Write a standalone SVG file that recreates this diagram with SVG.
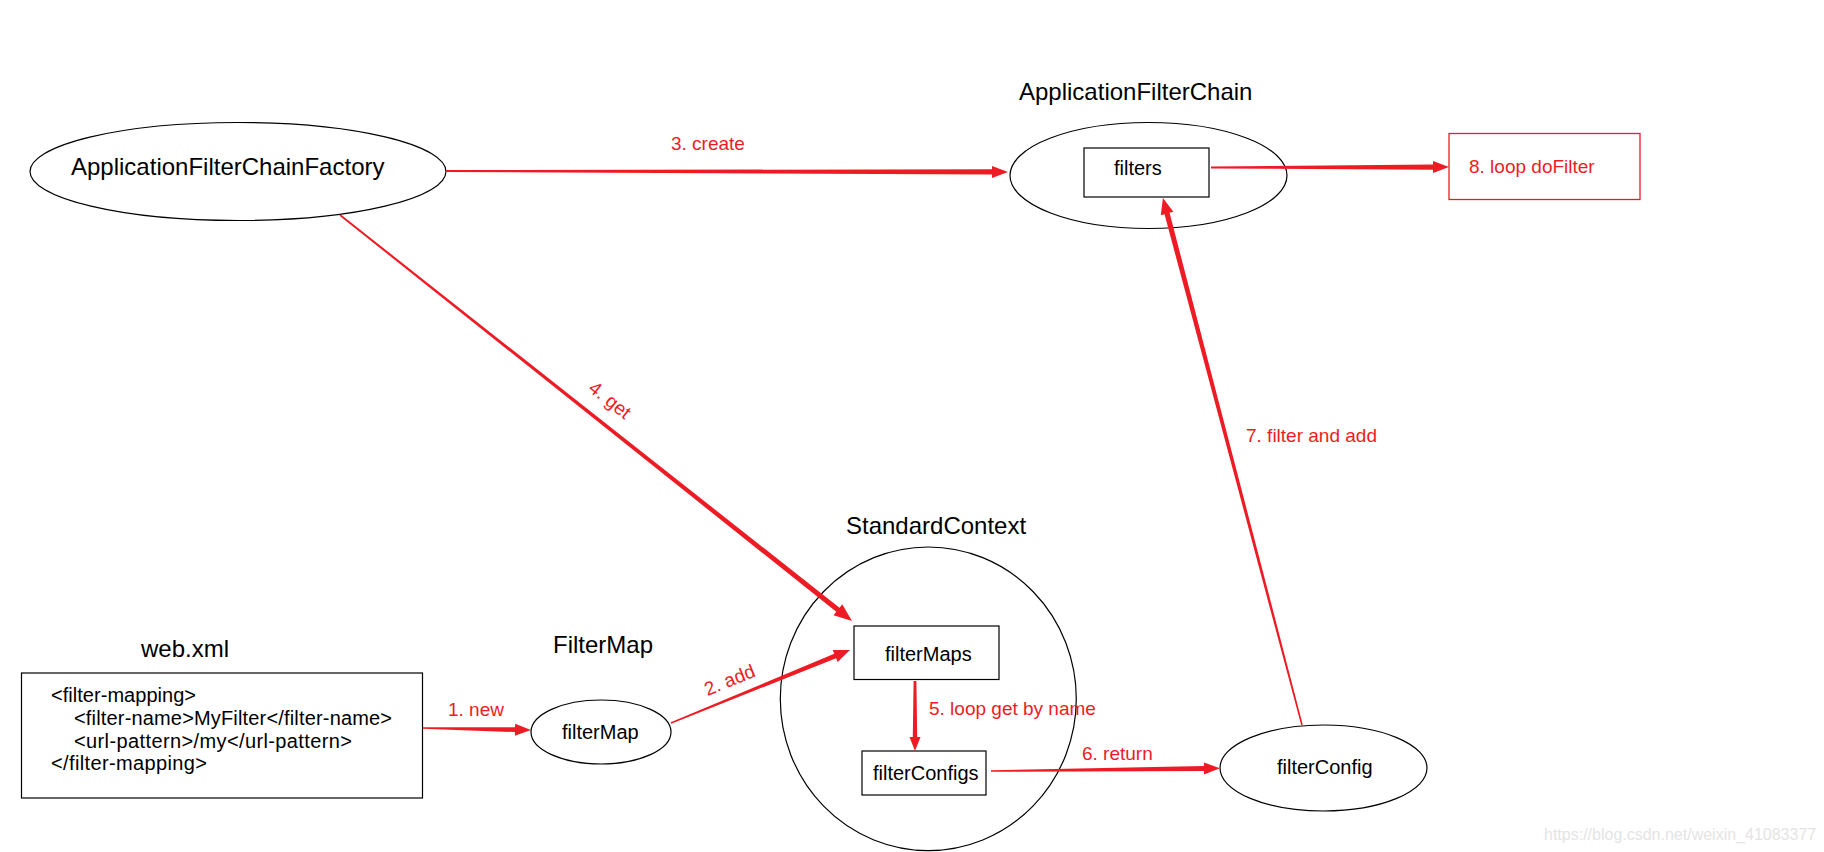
<svg xmlns="http://www.w3.org/2000/svg" width="1824" height="852" viewBox="0 0 1824 852">
<style>
.bg{fill:#ffffff}
.shape{fill:none;stroke:#000000;stroke-width:1.2}
.redbox{fill:none;stroke:#ED1C24;stroke-width:1.3}
.title{font-family:"Liberation Sans",Arial,sans-serif;font-size:24px;fill:#000000}
.node{font-family:"Liberation Sans",Arial,sans-serif;font-size:20px;fill:#000000}
.lbl{font-family:"Liberation Sans",Arial,sans-serif;font-size:19px;fill:#ED1C24}
.arrow{fill:#ED1C24;stroke:none}
.wm{font-family:"Liberation Sans",Arial,sans-serif;font-size:16px;fill:#e4e4e4}
</style>
<rect class="bg" x="0" y="0" width="1824" height="852"/>

<g id="factory">
<ellipse class="shape" cx="238" cy="171.5" rx="208" ry="49"/>
<text class="title" x="71" y="175">ApplicationFilterChainFactory</text>
</g>

<g id="chain">
<text class="title" x="1019" y="100">ApplicationFilterChain</text>
<ellipse class="shape" cx="1148.5" cy="175.5" rx="138.5" ry="53"/>
</g>

<g id="filters">
<rect class="shape" x="1084" y="148" width="125" height="49"/>
<text class="node" x="1114" y="175">filters</text>
</g>

<g id="doFilter">
<rect class="redbox" x="1449" y="133.5" width="191" height="66"/>
<text class="lbl" x="1469" y="173">8. loop doFilter</text>
</g>

<g id="webxml">
<text class="title" x="141" y="657">web.xml</text>
<rect class="shape" x="21.5" y="673" width="401" height="125"/>
<text class="node" x="51" y="702" textLength="145">&lt;filter-mapping&gt;</text>
<text class="node" x="74" y="725" textLength="318">&lt;filter-name&gt;MyFilter&lt;/filter-name&gt;</text>
<text class="node" x="74" y="748" textLength="278">&lt;url-pattern&gt;/my&lt;/url-pattern&gt;</text>
<text class="node" x="51" y="770" textLength="156">&lt;/filter-mapping&gt;</text>
</g>

<g id="filterMap">
<text class="title" x="553" y="653">FilterMap</text>
<ellipse class="shape" cx="601" cy="732" rx="70" ry="32"/>
<text class="node" x="562" y="739">filterMap</text>
</g>

<g id="standardContext">
<text class="title" x="846" y="534">StandardContext</text>
<ellipse class="shape" cx="928.3" cy="698.8" rx="148" ry="151.8"/>
</g>

<g id="filterMaps">
<rect class="shape" x="854" y="626" width="145" height="53.5"/>
<text class="node" x="885" y="661">filterMaps</text>
</g>

<g id="filterConfigs">
<rect class="shape" x="862" y="751" width="124" height="44"/>
<text class="node" x="873" y="780">filterConfigs</text>
</g>

<g id="filterConfig">
<ellipse class="shape" cx="1323.5" cy="768" rx="103.5" ry="43"/>
<text class="node" x="1277" y="774">filterConfig</text>
</g>

<g id="connectors">
<!-- 1. new -->
<path class="arrow" transform="translate(423,728) rotate(1.06)" d="M0,-0.8 L92,-2.4 L92,-6 L108,0 L92,6 L92,2.4 L0,0.8 Z"/>
<!-- 2. add -->
<path class="arrow" transform="translate(671,723) rotate(-22.19)" d="M0,-0.7 L177.3,-2.4 L177.3,-6.5 L193.3,0 L177.3,6.5 L177.3,2.4 L0,0.7 Z"/>
<!-- 3. create -->
<path class="arrow" transform="translate(446,171) rotate(0.1)" d="M0,-1 L546,-2.6 L546,-6 L562,0 L546,6 L546,2.6 L0,1 Z"/>
<!-- 4. get -->
<path class="arrow" transform="translate(340,215) rotate(38.41)" d="M0,-0.9 L635.4,-2.6 L635.4,-7 L653.4,0 L635.4,7 L635.4,2.6 L0,0.9 Z"/>
<!-- 5. loop get by name -->
<path class="arrow" transform="translate(915,681) rotate(90)" d="M0,-1.4 L56,-2.2 L56,-5.5 L70,0 L56,5.5 L56,2.2 L0,1.4 Z"/>
<!-- 6. return -->
<path class="arrow" transform="translate(991,771) rotate(-0.67)" d="M0,-0.8 L213,-2.6 L213,-6 L229,0 L213,6 L213,2.6 L0,0.8 Z"/>
<!-- 7. filter and add -->
<path class="arrow" transform="translate(1302,725) rotate(-104.78)" d="M0,-0.8 L529,-2.6 L529,-6.5 L545,0 L529,6.5 L529,2.6 L0,0.8 Z"/>
<!-- 8. loop doFilter -->
<path class="arrow" transform="translate(1211,167.5) rotate(-0.12)" d="M0,-1 L222,-2.6 L222,-6 L238,0 L222,6 L222,2.6 L0,1 Z"/>
</g>

<g id="labels">
<text class="lbl" x="448" y="716">1. new</text>
<text class="lbl" x="732" y="686" text-anchor="middle" transform="rotate(-22 732 686)">2. add</text>
<text class="lbl" x="671" y="150">3. create</text>
<text class="lbl" x="606" y="405" text-anchor="middle" transform="rotate(38.4 606 405)">4. get</text>
<text class="lbl" x="929" y="715">5. loop get by name</text>
<text class="lbl" x="1082" y="760">6. return</text>
<text class="lbl" x="1246" y="442">7. filter and add</text>
</g>

<text class="wm" x="1544" y="840">https://blog.csdn.net/weixin_41083377</text>
</svg>
